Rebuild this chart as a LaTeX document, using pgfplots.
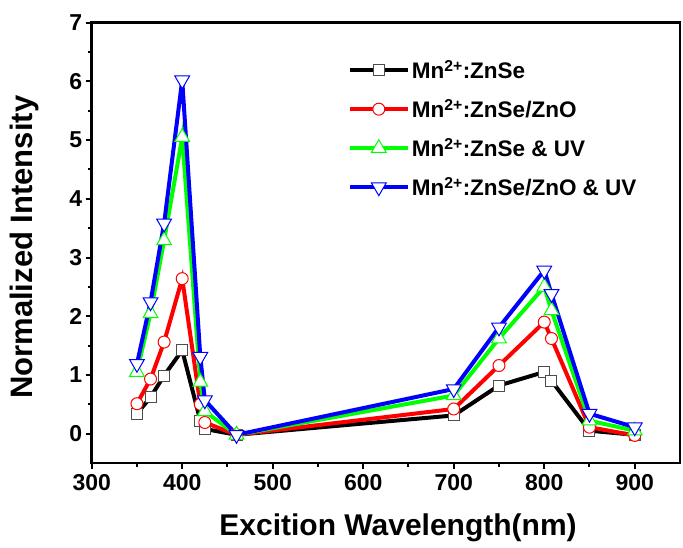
\documentclass[border=0pt]{standalone}
\usepackage{fontspec}
\setmainfont{Liberation Sans}
\usepackage{pgfplots}
\pgfplotsset{compat=1.18}
\definecolor{cgreen}{RGB}{0,255,0}
\definecolor{cred}{RGB}{255,0,0}
\definecolor{cblue}{RGB}{0,0,255}
\begin{document}
\begin{tikzpicture}
\useasboundingbox (-91.7pt,-85pt) rectangle (591.3pt,463pt);
\begin{axis}[
  at={(0pt,0pt)}, anchor=south west,
  scale only axis, width=588.3pt, height=440.3pt,
  xmin=300, xmax=950, ymin=-0.5, ymax=7,
  xtick={300,400,...,900}, ytick={0,1,...,7},
  minor x tick num=1, minor y tick num=1,
  tick pos=left, tick align=outside,
  major tick length=6pt, minor tick length=4pt,
  every tick/.style={line width=2pt, black},
  axis line style={line width=2.5pt},
  /pgf/number format/assume math mode=true,
  tick label style={font=\bfseries\fontsize{23}{23}\selectfont},
  xticklabel style={yshift=-2pt},
  xlabel={Excition Wavelength(nm)},
  ylabel={Normalized Intensity},
  xlabel style={font=\bfseries\fontsize{30}{30}\selectfont, at={(axis description cs:0.5207,0)}, anchor=center, yshift=-65pt},
  ylabel style={font=\bfseries\fontsize{31}{31}\selectfont, at={(axis description cs:-0.1134,0.49)}, anchor=center},
  legend style={draw=none, fill=none, at={(axis description cs:0.435,0.92)}, anchor=north west,
    font=\bfseries\fontsize{22.5}{22.5}\selectfont, row sep=15pt, inner sep=0pt},
  legend cell align=left,
  legend image code/.code={\draw[mark repeat=2,mark phase=2] plot coordinates {(0pt,0pt) (29pt,0pt) (58pt,0pt)};},
  every axis plot/.append style={line width=4pt},
]
\addplot[black, mark=square*, mark size=5.5pt, mark options={fill=white, line width=1pt, draw=black!70}] coordinates {
(350,0.34) (365,0.62) (380,0.99) (400,1.42) (420,0.22) (425,0.08) (460,-0.02)
(700,0.31) (750,0.82) (800,1.05) (808,0.90) (850,0.05) (900,-0.02)};
\addlegendentry{Mn\textsuperscript{2+}:ZnSe}
\addplot[cred, mark=*, mark size=6pt, mark options={fill=white, line width=1pt}] coordinates {
(350,0.51) (365,0.93) (380,1.56) (400,2.64) (420,0.50) (425,0.19) (460,-0.02)
(700,0.42) (750,1.16) (800,1.90) (808,1.62) (850,0.11) (900,-0.03)};
\addlegendentry{Mn\textsuperscript{2+}:ZnSe/ZnO}
\addplot[cgreen, mark=triangle*, mark size=8.5pt, mark options={fill=white, line width=1pt}] coordinates {
(350,1.05) (365,2.05) (380,3.29) (400,5.05) (420,0.88) (425,0.38) (460,-0.02)
(700,0.65) (750,1.62) (800,2.50) (808,2.10) (850,0.22) (900,0.05)};
\addlegendentry{Mn\textsuperscript{2+}:ZnSe \& UV}
\addplot[cblue, mark=triangle*, mark size=8.5pt, mark options={fill=white, line width=1pt, rotate=180}] coordinates {
(350,1.19) (365,2.24) (380,3.58) (400,6.02) (420,1.31) (425,0.57) (460,-0.02)
(700,0.76) (750,1.81) (800,2.78) (808,2.38) (850,0.34) (900,0.11)};
\addlegendentry{Mn\textsuperscript{2+}:ZnSe/ZnO \& UV}
\end{axis}
\end{tikzpicture}
\end{document}
